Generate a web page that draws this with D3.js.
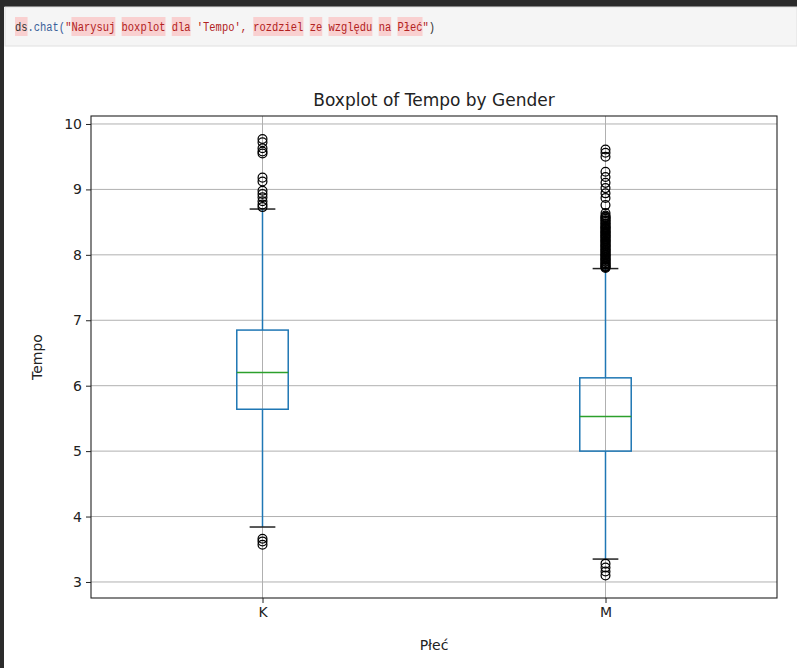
<!DOCTYPE html>
<html>
<head>
<meta charset="utf-8">
<script src="https://cdn.jsdelivr.net/npm/d3@7"></script>
<style>
body { margin: 0; background: #fff; }
svg { display: block; }
</style>
</head>
<body>
<div id="chart-area"></div>
<script>

// Data
var categories = ["K", "M"];
var q1 = [5.64, 5.00];
var medians = [6.20, 5.53];
var q3 = [6.85, 6.12];
var whiskerLow = [3.84, 3.35];
var whiskerHigh = [8.70, 7.79];
var outliersK = [9.77, 9.72, 9.63, 9.58, 9.55, 9.18, 9.12, 8.98, 8.93, 8.88, 8.82, 8.77, 8.73,
	3.66, 3.62, 3.57];
var outliersM = [9.61, 9.56, 9.50, 9.27, 9.19, 9.10, 9.02, 8.94, 8.87, 8.76, 8.64,
	8.60, 8.58, 8.57, 8.55, 8.53, 8.52, 8.50, 8.48, 8.47, 8.45, 8.43, 8.42, 8.41, 8.39, 8.38,
	8.36, 8.35, 8.34, 8.32, 8.31, 8.29, 8.28, 8.27, 8.25, 8.24, 8.22, 8.21, 8.20, 8.18, 8.17,
	8.15, 8.14, 8.13, 8.11, 8.10, 8.08, 8.07, 8.06, 8.04, 8.03, 8.01, 8.00, 7.99, 7.97, 7.96,
	7.94, 7.93, 7.92, 7.90, 7.89, 7.87, 7.86, 7.85, 7.83, 7.82, 7.81, 7.80,
	3.28, 3.22, 3.16, 3.10];
var yTicks = [3, 4, 5, 6, 7, 8, 9, 10];

var W = 797, H = 668;
var margin = {top: 116, right: 20, bottom: 70, left: 91};
var width = W - margin.left - margin.right,
	height = H - margin.top - margin.bottom;

var svg = d3.select("#chart-area").append("svg")
	.attr("width", W)
	.attr("height", H);

// notebook frame
svg.append("rect").attr("x", 0).attr("y", 0).attr("width", W).attr("height", 7).attr("fill", "#2b2b2b");
svg.append("rect").attr("x", 0).attr("y", 0).attr("width", 4).attr("height", H).attr("fill", "#2b2b2b");
svg.append("rect").attr("x", 5).attr("y", 7).attr("width", W - 5).attr("height", 39)
	.attr("fill", "#f5f5f5").attr("stroke", "#e0e0e0");

// code line: one text, tspans for colour, rects for the spell-check highlights
var tokens = [
	{t: "ds", c: "#333333", hl: true},
	{t: ".chat(", c: "#3b5f9a"},
	{t: "\"", c: "#b22222"},
	{t: "Narysuj", c: "#b22222", hl: true},
	{t: " ", c: "#b22222"},
	{t: "boxplot", c: "#b22222", hl: true},
	{t: " ", c: "#b22222"},
	{t: "dla", c: "#b22222", hl: true},
	{t: " 'Tempo', ", c: "#b22222"},
	{t: "rozdziel", c: "#b22222", hl: true},
	{t: " ", c: "#b22222"},
	{t: "ze", c: "#b22222", hl: true},
	{t: " ", c: "#b22222"},
	{t: "względu", c: "#b22222", hl: true},
	{t: " ", c: "#b22222"},
	{t: "na", c: "#b22222", hl: true},
	{t: " ", c: "#b22222"},
	{t: "Płeć", c: "#b22222", hl: true},
	{t: "\"", c: "#b22222"},
	{t: ")", c: "#333333"}
];
var charW = 6.27, codeX = 15, pos = 0;
var code = svg.append("g");
tokens.forEach(function(d) {
	if (d.hl) {
		code.append("rect").attr("x", codeX + pos * charW).attr("y", 17)
			.attr("width", d.t.length * charW).attr("height", 19).attr("fill", "#f9d0d0");
	}
	pos += d.t.length;
});
var codeText = code.append("text")
	.attr("x", codeX).attr("y", 31)
	.attr("font-family", "Liberation Mono, DejaVu Sans Mono, monospace")
	.attr("font-size", 12.5)
	.attr("textLength", pos * charW)
	.attr("lengthAdjust", "spacingAndGlyphs")
	.style("white-space", "pre");
tokens.forEach(function(d) {
	codeText.append("tspan").attr("fill", d.c).text(d.t);
});

var g = svg.append("g")
	.attr("transform", "translate(" + margin.left + "," + margin.top + ")");

var x = d3.scaleLinear().domain([0.5, 2.5]).range([0, width]);
var y = d3.scaleLinear().domain([2.755, 10.122]).range([height, 0]);

// grid
g.selectAll(".hgrid").data(yTicks).enter().append("line")
	.attr("x1", 0).attr("x2", width)
	.attr("y1", function(d) { return y(d); }).attr("y2", function(d) { return y(d); })
	.attr("stroke", "#b0b0b0").attr("stroke-width", 1);
g.selectAll(".vgrid").data(categories).enter().append("line")
	.attr("x1", function(d, i) { return x(i + 1); }).attr("x2", function(d, i) { return x(i + 1); })
	.attr("y1", 0).attr("y2", height)
	.attr("stroke", "#b0b0b0").attr("stroke-width", 1);

var boxW = 0.15;
var boxes = g.selectAll(".box").data(categories).enter().append("g");

// whiskers
boxes.append("line")
	.attr("x1", function(d, i) { return x(i + 1); }).attr("x2", function(d, i) { return x(i + 1); })
	.attr("y1", function(d, i) { return y(q3[i]); }).attr("y2", function(d, i) { return y(whiskerHigh[i]); })
	.attr("stroke", "#1f77b4").attr("stroke-width", 1.5);
boxes.append("line")
	.attr("x1", function(d, i) { return x(i + 1); }).attr("x2", function(d, i) { return x(i + 1); })
	.attr("y1", function(d, i) { return y(q1[i]); }).attr("y2", function(d, i) { return y(whiskerLow[i]); })
	.attr("stroke", "#1f77b4").attr("stroke-width", 1.5);

// caps
[whiskerHigh, whiskerLow].forEach(function(arr) {
	boxes.append("line")
		.attr("x1", function(d, i) { return x(i + 1 - boxW / 4); })
		.attr("x2", function(d, i) { return x(i + 1 + boxW / 4); })
		.attr("y1", function(d, i) { return y(arr[i]); }).attr("y2", function(d, i) { return y(arr[i]); })
		.attr("stroke", "#222").attr("stroke-width", 1.5);
});

// box
boxes.append("rect")
	.attr("x", function(d, i) { return x(i + 1 - boxW / 2); })
	.attr("width", x(boxW) - x(0))
	.attr("y", function(d, i) { return y(q3[i]); })
	.attr("height", function(d, i) { return y(q1[i]) - y(q3[i]); })
	.attr("fill", "none").attr("stroke", "#1f77b4").attr("stroke-width", 1.5);

boxes.append("line")
	.attr("x1", function(d, i) { return x(i + 1 - boxW / 2); })
	.attr("x2", function(d, i) { return x(i + 1 + boxW / 2); })
	.attr("y1", function(d, i) { return y(medians[i]); }).attr("y2", function(d, i) { return y(medians[i]); })
	.attr("stroke", "#2ca02c").attr("stroke-width", 1.5);

// outliers
[outliersK, outliersM].forEach(function(arr, i) {
	g.selectAll(".out" + i).data(arr).enter().append("circle")
		.attr("cx", x(i + 1))
		.attr("cy", function(d) { return y(d); })
		.attr("r", 4.4)
		.attr("fill", "none").attr("stroke", "#000").attr("stroke-width", 1.25);
});

// axes
var yAxis = d3.axisLeft(y).tickValues(yTicks).tickSize(5).tickPadding(4).tickFormat(d3.format("d"));
var xAxis = d3.axisBottom(x).tickValues([1, 2]).tickSize(5).tickPadding(4)
	.tickFormat(function(d) { return categories[d - 1]; });

g.append("g").attr("class", "axis").call(yAxis);
g.append("g").attr("class", "axis").attr("transform", "translate(0," + height + ")").call(xAxis);
g.selectAll(".axis .domain").remove();
g.selectAll(".axis text").attr("font-family", "DejaVu Sans, sans-serif").attr("font-size", 14).attr("fill", "#222");
g.selectAll(".axis line").attr("stroke", "#222");

// spines
g.append("rect").attr("x", 0).attr("y", 0).attr("width", width).attr("height", height)
	.attr("fill", "none").attr("stroke", "#222").attr("stroke-width", 1.1);

// labels
svg.append("text")
	.attr("x", margin.left + width / 2).attr("y", 106)
	.attr("text-anchor", "middle")
	.attr("font-family", "DejaVu Sans, sans-serif").attr("font-size", 17).attr("fill", "#222")
	.text("Boxplot of Tempo by Gender");
svg.append("text")
	.attr("transform", "translate(42," + (margin.top + height / 2) + ") rotate(-90)")
	.attr("text-anchor", "middle")
	.attr("font-family", "DejaVu Sans, sans-serif").attr("font-size", 14).attr("fill", "#222")
	.text("Tempo");
svg.append("text")
	.attr("x", margin.left + width / 2).attr("y", 650)
	.attr("text-anchor", "middle")
	.attr("font-family", "DejaVu Sans, sans-serif").attr("font-size", 14).attr("fill", "#222")
	.text("Płeć");

</script>
</body>
</html>
